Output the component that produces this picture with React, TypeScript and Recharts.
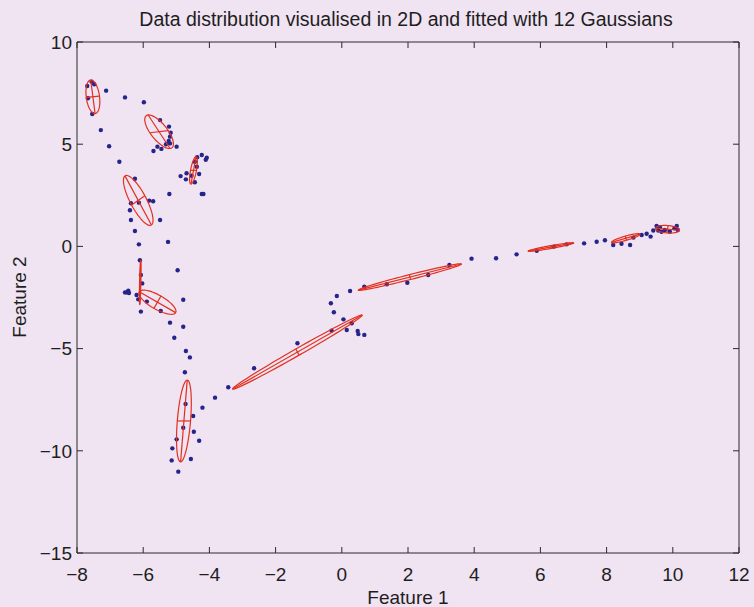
import React from 'react';
import { ScatterChart, Scatter, XAxis, YAxis } from 'recharts';

// ---- data points (Feature 1, Feature 2) ----
const pointsX: number[] = [
  -7.69, -7.67, -7.56, -7.48, -7.54, -7.12, -6.55, -5.98, -7.28, -7.03, -6.72,
  -5.49, -5.22, -5.17, -5.19, -5.23, -5.31, -5.19, -4.99, -5.57, -5.45, -5.69,
  -4.23, -4.08, -4.11, -4.37, -4.44, -4.38, -4.31, -4.44, -4.87, -4.69, -4.71, -4.54, -4.23, -4.18,
  -6.25, -6.37, -6.40, -6.37, -6.13, -5.82, -5.70, -5.49, -5.21,
  -6.25, -6.13, -5.25, -6.10, -4.96, -6.07, -6.03, -6.55, -6.50, -6.45, -6.43, -6.20, -6.15, -5.89, -6.07,
  -5.47, -4.79, -5.19, -4.79, -5.06, -4.71, -4.59, -4.74,
  -4.72, -4.49, -4.21, -4.79, -4.47, -4.99, -4.31, -5.12, -5.14, -4.56, -4.94,
  -3.83, -3.43, -2.65, -1.34, -0.31, 0.15, 0.05, 0.30, 0.48, 0.50, 0.68, -0.33, -0.24, -0.15, 0.25,
  0.68, 1.36, 1.98, 2.61, 3.25, 3.92, 4.66, 5.28, 5.89, 6.41, 6.79, 7.32, 7.70, 7.95,
  8.20, 8.45, 8.71, 8.81, 9.06, 9.21, 9.33, 9.41, 9.51, 9.61, 9.66, 9.76, 9.91, 10.05, 10.15, 10.12, 9.56,
];
const pointsY: number[] = [
  7.85, 7.25, 8.06, 7.93, 6.48, 7.62, 7.29, 7.05, 5.69, 4.90, 4.14,
  6.18, 5.86, 5.56, 5.37, 5.16, 5.0, 5.04, 4.88, 4.88, 4.77, 4.67,
  4.47, 4.34, 4.24, 4.36, 4.14, 3.90, 3.54, 3.14, 3.44, 3.58, 3.28, 3.46, 2.56, 2.56,
  3.31, 2.11, 1.77, 1.29, 2.14, 2.24, 2.21, 1.29, 2.56,
  0.75, 0.10, 0.22, -0.68, -1.17, -1.40, -1.81, -2.25, -2.25, -2.17, -2.28, -2.38, -2.59, -2.70, -3.19,
  -3.16, -2.61, -3.73, -3.93, -4.47, -5.12, -5.43, -6.16,
  -7.71, -8.30, -7.89, -8.87, -9.07, -9.44, -9.51, -9.88, -10.47, -10.40, -11.02,
  -7.40, -6.89, -5.96, -4.74, -4.12, -4.09, -3.57, -3.76, -4.14, -4.29, -4.33, -2.78, -3.22, -2.43, -2.18,
  -1.97, -1.85, -1.78, -1.40, -0.91, -0.60, -0.58, -0.39, -0.21, -0.01, 0.10, 0.15, 0.23, 0.30,
  0.07, 0.13, 0.07, 0.43, 0.56, 0.62, 0.48, 0.78, 1.00, 0.94, 0.72, 0.80, 0.72, 0.89, 0.80, 1.0, 0.78,
];

// ---- 12 Gaussians: centre, major half-axis vector, minor half-axis vector ----
const gaussCx: number[] = [-7.52, -5.52, -4.48, -6.15, -6.09, -5.57, -4.77, -1.34, 2.06, 6.32, 8.58, 9.84];
const gaussCy: number[] = [7.32, 5.61, 3.72, 2.25, -1.76, -2.73, -8.54, -5.17, -1.50, -0.03, 0.40, 0.84];
const gaussMajor: [number, number][] = [
  [-0.066, 0.82], [0.33, -0.82], [0.076, 0.67], [0.40, -1.2], [0.015, 1.08], [0.55, -0.51],
  [0.10, 2.0], [1.96, 1.81], [1.56, 0.64], [0.69, 0.2], [0.43, 0.20], [0.36, -0.05],
];
const gaussMinor: [number, number][] = [
  [0.2, 0.03], [0.28, 0.05], [0.09, 0.0], [0.2, 0.23], [0.02, 0.0], [-0.106, -0.30],
  [0.2, 0.0], [0.05, -0.15], [0.018, -0.118], [0.0, -0.07], [0.02, -0.1], [0.02, 0.18],
];

const xTicks = [-8, -6, -4, -2, 0, 2, 4, 6, 8, 10, 12];
const yTicks = [-15, -10, -5, 0, 5, 10];
const title = 'Data distribution visualised in 2D and fitted with 12 Gaussians';
const xLabel = 'Feature 1';
const yLabel = 'Feature 2';

const BG = '#f0e3f2';
const AXIS = '#2a2a2a';
const TXT = '#1e1e1e';
const DOT = '#24248a';
const RED = '#e2301f';
const FONT = "'Liberation Sans', Arial, sans-serif";
const FS = 19;
const TICK_LEN = 6;
const X_MARGIN = 15;
const Y_MARGIN = 5;

const points = pointsX.map((x, i) => ({ x, y: pointsY[i] }));

function ellipseOutline(i: number) {
  const out: { x: number; y: number }[] = [];
  const n = 72;
  for (let k = 0; k <= n; k++) {
    const t = (2 * Math.PI * k) / n;
    out.push({
      x: gaussCx[i] + Math.cos(t) * gaussMajor[i][0] + Math.sin(t) * gaussMinor[i][0],
      y: gaussCy[i] + Math.cos(t) * gaussMajor[i][1] + Math.sin(t) * gaussMinor[i][1],
    });
  }
  return out;
}
function axisSeg(i: number, v: [number, number]) {
  return [
    { x: gaussCx[i] - v[0], y: gaussCy[i] - v[1] },
    { x: gaussCx[i] + v[0], y: gaussCy[i] + v[1] },
  ];
}

const fmt = (v: number) => (v < 0 ? '\u2212' + Math.abs(v) : String(v));
const Empty = () => <g />;
const Dot = (p: any) => <circle cx={p.cx} cy={p.cy} r={2.2} fill={DOT} />;

const BottomTick = (p: any) => {
  const ay = p.y - X_MARGIN;
  return (
    <g>
      <line x1={p.x} x2={p.x} y1={ay} y2={ay - TICK_LEN} stroke={AXIS} strokeWidth={1} />
      <text x={p.x} y={p.y} dy="0.71em" textAnchor="middle" fill={TXT} fontSize={FS} fontFamily={FONT}>
        {fmt(p.payload.value)}
      </text>
    </g>
  );
};
const LeftTick = (p: any) => {
  const ax = p.x + Y_MARGIN;
  return (
    <g>
      <line x1={ax} x2={ax + TICK_LEN} y1={p.y} y2={p.y} stroke={AXIS} strokeWidth={1} />
      <text x={p.x} y={p.y} dy="0.355em" textAnchor="end" fill={TXT} fontSize={FS} fontFamily={FONT}>
        {fmt(p.payload.value)}
      </text>
    </g>
  );
};
const TopTick = (p: any) => (
  <line x1={p.x} x2={p.x} y1={p.y} y2={p.y + TICK_LEN} stroke={AXIS} strokeWidth={1} />
);
const RightTick = (p: any) => (
  <line x1={p.x} x2={p.x - TICK_LEN} y1={p.y} y2={p.y} stroke={AXIS} strokeWidth={1} />
);

export default function App() {
  const lineStyle = { stroke: RED, strokeWidth: 1.2 };
  return (
    <div style={{ position: 'absolute', left: 0, top: 0, width: 754, height: 607, background: BG, fontFamily: FONT }}>
      <div style={{ position: 'absolute', left: 0, width: 812, top: 8, textAlign: 'center', fontSize: 19.5, color: TXT, whiteSpace: 'nowrap' }}>
        {title}
      </div>
      <div style={{ position: 'absolute', left: 77, width: 662, top: 587, textAlign: 'center', fontSize: FS, color: TXT }}>
        {xLabel}
      </div>
      <div style={{ position: 'absolute', left: 19, top: 297, width: 0, height: 0 }}>
        <div style={{ position: 'absolute', left: 0, top: 0, transform: 'translate(-50%, -50%) rotate(-90deg)', fontSize: FS, color: TXT, whiteSpace: 'nowrap', lineHeight: 1 }}>
          {yLabel}
        </div>
      </div>
      <div style={{ position: 'absolute', left: 0, top: 0 }}>
        <ScatterChart width={754} height={607} margin={{ top: 42, right: 15, bottom: 0, left: 0 }}>
          <XAxis xAxisId="b" type="number" dataKey="x" domain={[-8, 12]} ticks={xTicks} allowDataOverflow
            orientation="bottom" height={54} tickLine={false} tickSize={0} tickMargin={X_MARGIN}
            axisLine={{ stroke: AXIS, strokeWidth: 1 }} tick={BottomTick} interval={0} />
          <XAxis xAxisId="t" type="number" dataKey="x" domain={[-8, 12]} ticks={xTicks} allowDataOverflow
            orientation="top" mirror tick={TopTick} axisLine={{ stroke: AXIS }} tickSize={0} tickMargin={0} tickLine={false} interval={0} />
          <YAxis yAxisId="l" type="number" dataKey="y" domain={[-15, 10]} ticks={yTicks} allowDataOverflow
            orientation="left" width={77} tickLine={false} tickSize={0} tickMargin={Y_MARGIN}
            axisLine={{ stroke: AXIS, strokeWidth: 1 }} tick={LeftTick} interval={0} />
          <YAxis yAxisId="r" type="number" dataKey="y" domain={[-15, 10]} ticks={yTicks} allowDataOverflow
            orientation="right" mirror tick={RightTick} axisLine={{ stroke: AXIS }} tickSize={0} tickMargin={0} tickLine={false} interval={0} />

          <Scatter xAxisId="t" yAxisId="r" data={points} shape={Empty} isAnimationActive={false} />

          <Scatter xAxisId="b" yAxisId="l" data={points} shape={Dot} isAnimationActive={false} />
          {gaussCx.map((_, i) => (
            <Scatter key={'e' + i} xAxisId="b" yAxisId="l" data={ellipseOutline(i)} shape={Empty} line={lineStyle} isAnimationActive={false} />
          ))}
          {gaussCx.map((_, i) => (
            <Scatter key={'a' + i} xAxisId="b" yAxisId="l" data={axisSeg(i, gaussMajor[i])} shape={Empty} line={lineStyle} isAnimationActive={false} />
          ))}
          {gaussCx.map((_, i) => (
            <Scatter key={'m' + i} xAxisId="b" yAxisId="l" data={axisSeg(i, gaussMinor[i])} shape={Empty} line={lineStyle} isAnimationActive={false} />
          ))}
        </ScatterChart>
      </div>
    </div>
  );
}
